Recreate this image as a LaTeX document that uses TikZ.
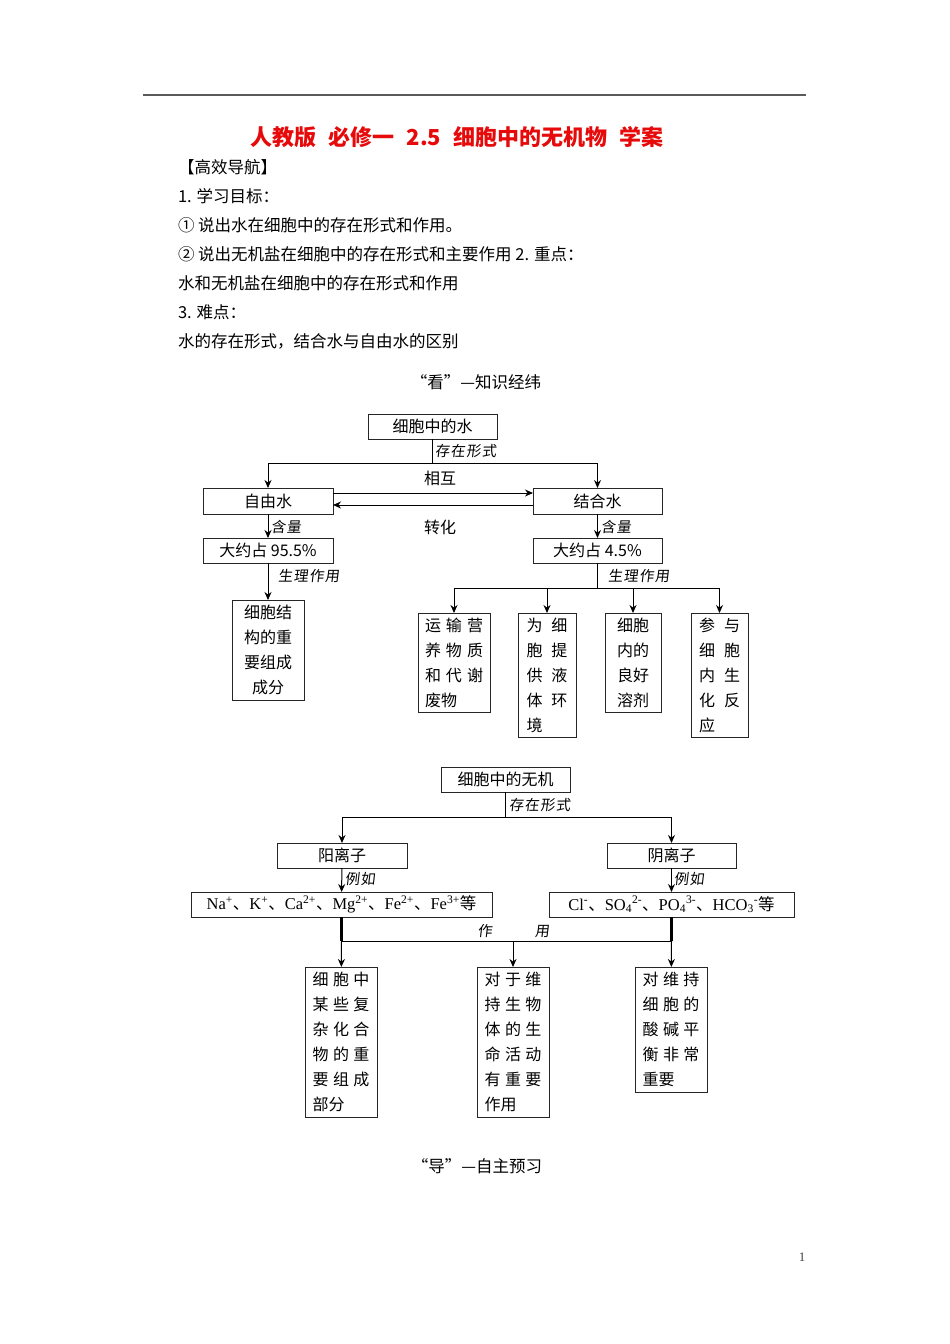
\documentclass[tikz,border=0pt]{standalone}
\usepackage{fontspec}
\setmainfont{Noto Sans CJK SC}
\newfontfamily\cjk{Noto Sans CJK SC}
\newfontfamily\tnr{Liberation Serif}
\newfontfamily\kai[FakeSlant=0.12,LetterSpace=8]{Noto Sans CJK SC}
\usetikzlibrary{arrows.meta}
\definecolor{titlered}{RGB}{230,10,10}
\definecolor{rulegray}{RGB}{90,90,90}
\newcommand\JR[2]{\makebox[#1pt][s]{#2}}
\newcommand\JL[2]{\makebox[#1pt][l]{#2}}
\newcommand\dun{{\cjk 、}}
\newcommand\tgap{\hspace{12pt}}
\tikzset{
  every node/.style={inner sep=0pt, outer sep=0pt},
  hdr/.style={anchor=west, font=\fontsize{16.5}{20}\selectfont},
  bx/.style={draw=black!85, line width=1pt, anchor=north west, align=center,
             font=\fontsize{16}{25}\selectfont},
  ionbx/.style={bx, font=\tnr\fontsize{16.5}{20}\selectfont},
  lbl/.style={anchor=west, font=\kai\fontsize{14.5}{18}\selectfont},
  ln/.style={draw=black, line width=1pt},
  arr/.style={ln, -{Stealth[length=8pt,width=7pt]}},
  thk/.style={draw=black, line width=2.5pt},
}
\begin{document}
\begin{tikzpicture}[x=1pt,y=-1pt]
\useasboundingbox[fill=white] (0,0) rectangle (950,1344);
% top rule
\coordinate (rl) at (143,95);
\coordinate (rr) at (806,95);
\draw[line width=2pt, rulegray] (rl) -- (rr);
% title
\node[font=\bfseries\fontsize{22}{26}\selectfont, text=titlered] (title) at (457,137)
  {人教版\tgap 必修一\tgap 2.5\tgap 细胞中的无机物\tgap 学案};
% header text
\node[hdr] (h1) at (178,167) {【高效导航】};
\node[hdr] (h2) at (178,196) {1. 学习目标：};
\node[hdr] (h3) at (178,225) {① 说出水在细胞中的存在形式和作用。};
\node[hdr] (h4) at (178,254) {② 说出无机盐在细胞中的存在形式和主要作用 2. 重点：};
\node[hdr] (h5) at (178,283) {水和无机盐在细胞中的存在形式和作用};
\node[hdr] (h6) at (178,312) {3. 难点：};
\node[hdr] (h7) at (178,341) {水的存在形式，结合水与自由水的区别};
\node[font=\fontsize{16.5}{20}\selectfont] (kan) at (476,382) {“看”—知识经纬};

% ===== water diagram =====
\node[bx, minimum width=129pt, minimum height=25pt] (w) at (368,414) {细胞中的水};
\coordinate (wj) at (432.5,463);
\draw[ln] (w.south) -- (wj);
\node[lbl] (lw) at (435,451) {存在形式};
\node[bx, minimum width=130pt, minimum height=26pt] (free) at (203,488) {自由水};
\node[bx, minimum width=129pt, minimum height=26pt] (bound) at (533,488) {结合水};
\draw[arr] (wj) -| (free);
\draw[arr] (wj) -| (bound);
\node[font=\fontsize{16}{20}\selectfont] (xh) at (440,478) {相互};
\node[font=\fontsize{16}{20}\selectfont] (zh) at (440,527) {转化};
\draw[arr] ([yshift=8pt]free.east) -- ([yshift=8pt]bound.west);
\draw[arr] ([yshift=-4pt]bound.west) -- ([yshift=-4pt]free.east);
\node[bx, minimum width=130pt, minimum height=25pt] (p955) at (203,538) {大约占 95.5\%};
\node[bx, minimum width=129pt, minimum height=25pt] (p45) at (533,538) {大约占 4.5\%};
\draw[arr] (free) -- (p955);
\draw[arr] (bound) -- (p45);
\node[lbl] (hl1) at (271,527) {含量};
\node[lbl] (hl2) at (601,527) {含量};
\node[bx, minimum width=72pt, minimum height=100pt] (st) at (232,600)
  {细胞结\\构的重\\要组成\\成分};
\draw[arr] (p955) -- (st);
\node[lbl] (sl1) at (278,576) {生理作用};
\coordinate (rj) at (597.5,588);
\draw[ln] (p45.south) -- (rj);
\node[lbl] (sl2) at (608,576) {生理作用};
\node[bx, minimum width=72pt, minimum height=99pt] (b1) at (418,613)
  {\JR{58}{运\hfill 输\hfill 营}\\\JR{58}{养\hfill 物\hfill 质}\\\JR{58}{和\hfill 代\hfill 谢}\\\JL{58}{废物}};
\node[bx, minimum width=58pt, minimum height=124pt] (b2) at (518,613)
  {\JR{41}{为\hfill 细}\\\JR{41}{胞\hfill 提}\\\JR{41}{供\hfill 液}\\\JR{41}{体\hfill 环}\\\JL{41}{境}};
\node[bx, minimum width=56pt, minimum height=99pt] (b3) at (605,613)
  {细胞\\内的\\良好\\溶剂};
\node[bx, minimum width=57pt, minimum height=124pt] (b4) at (691,613)
  {\JR{41}{参\hfill 与}\\\JR{41}{细\hfill 胞}\\\JR{41}{内\hfill 生}\\\JR{41}{化\hfill 反}\\\JL{41}{应}};
\draw[ln] (b1 |- rj) -- (b4 |- rj);
\draw[arr] (b1 |- rj) -- (b1);
\draw[arr] (b2 |- rj) -- (b2);
\draw[arr] (b3 |- rj) -- (b3);
\draw[arr] (b4 |- rj) -- (b4);

% ===== inorganic salts diagram =====
\node[bx, minimum width=129pt, minimum height=25pt] (ino) at (441,767) {细胞中的无机};
\coordinate (ij) at (505.5,817);
\draw[ln] (ino.south) -- (ij);
\node[lbl] (li) at (509,805) {存在形式};
\node[bx, minimum width=130pt, minimum height=25pt] (yang) at (277,843) {阳离子};
\node[bx, minimum width=129pt, minimum height=25pt] (yin) at (607,843) {阴离子};
\draw[arr] (ij) -| (yang);
\draw[arr] (ij) -| (yin);
\node[ionbx, minimum width=301pt, minimum height=25pt] (na) at (191,892)
  {Na\textsuperscript{+}\dun K\textsuperscript{+}\dun Ca\textsuperscript{2+}\dun Mg\textsuperscript{2+}\dun Fe\textsuperscript{2+}\dun Fe\textsuperscript{3+}{\cjk 等}};
\node[ionbx, minimum width=245pt, minimum height=25pt] (cl) at (549,892)
  {Cl\textsuperscript{-}\dun SO\textsubscript{4}\textsuperscript{2-}\dun PO\textsubscript{4}\textsuperscript{3-}\dun HCO\textsubscript{3}\textsuperscript{-}{\cjk 等}};
\draw[arr] (yang) -- (na);
\draw[arr] (yin) -- (cl);
\node[lbl] (e1) at (345,879) {例如};
\node[lbl] (e2) at (674,879) {例如};
\coordinate (aj) at (341.5,941);
\coordinate (bj) at (671.5,941);
\draw[thk] (na.south) -- (aj);
\draw[thk] (cl.south) -- (bj);
\draw[ln] (aj) -- (bj);
\node[font=\kai\fontsize{14.5}{18}\selectfont] (zy) at (513.5,931) {作\hspace{43pt}用};
\node[bx, minimum width=72pt, minimum height=150pt] (c1) at (305,967)
  {\JR{57}{细\hfill 胞\hfill 中}\\\JR{57}{某\hfill 些\hfill 复}\\\JR{57}{杂\hfill 化\hfill 合}\\\JR{57}{物\hfill 的\hfill 重}\\\JR{57}{要\hfill 组\hfill 成}\\\JL{57}{部分}};
\node[bx, minimum width=72pt, minimum height=150pt] (c2) at (477,967)
  {\JR{57}{对\hfill 于\hfill 维}\\\JR{57}{持\hfill 生\hfill 物}\\\JR{57}{体\hfill 的\hfill 生}\\\JR{57}{命\hfill 活\hfill 动}\\\JR{57}{有\hfill 重\hfill 要}\\\JL{57}{作用}};
\node[bx, minimum width=72pt, minimum height=125pt] (c3) at (635,967)
  {\JR{57}{对\hfill 维\hfill 持}\\\JR{57}{细\hfill 胞\hfill 的}\\\JR{57}{酸\hfill 碱\hfill 平}\\\JR{57}{衡\hfill 非\hfill 常}\\\JL{57}{重要}};
\draw[arr] (aj) -- (c1);
\draw[arr] (c2 |- aj) -- (c2);
\draw[arr] (bj) -- (c3);

\node[font=\fontsize{16.5}{20}\selectfont] (dao) at (477,1166) {“导”—自主预习};
\node[font=\tnr\fontsize{13}{15}\selectfont, text=black!75] (pg) at (802,1257) {1};
\end{tikzpicture}
\end{document}
